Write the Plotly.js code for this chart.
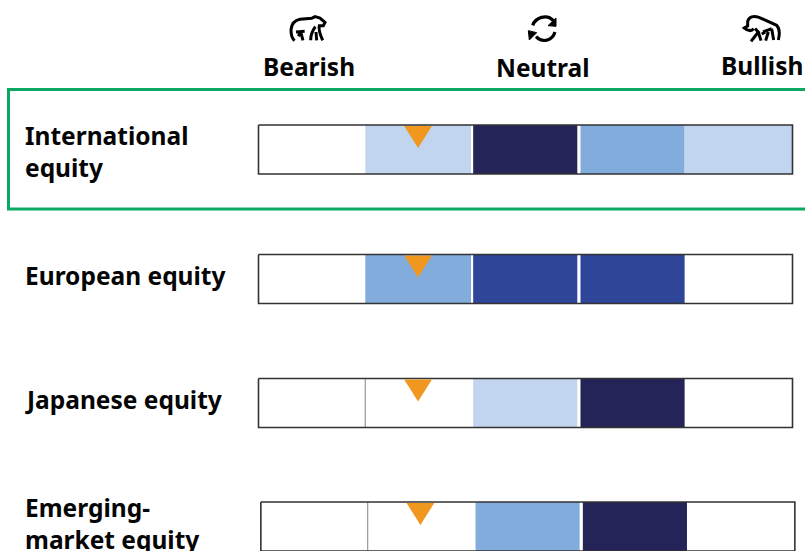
<!DOCTYPE html>
<html><head><meta charset="utf-8">
<script src="https://cdn.plot.ly/plotly-3.0.1.min.js"></script>
<style>html,body{margin:0;padding:0;background:#fff;overflow:hidden}</style>
</head><body><div id="chart" style="width:805px;height:551px"></div>
<script>
// Data: score scale -2 (bearish) .. +2 (bullish); rows are placed by rowY.
const rowLabels = ['International<br>equity','European equity','Japanese equity','Emerging-<br>market equity'];
const rowY = [149.5, 279, 403, 526.5];
const rowLabelY = [151, 275, 399, 523];
const rowShift = [0, 0, 0, 0.022];
const cellStart = [-2.5,-1.5,-0.49,0.515,1.49];
const cellEnd = [-1.5,-0.51,0.485,1.49,2.5];
const light='#c2d5ee', mid='#82acdc', blue='#2f4599', navy='#252459', none='#ffffff';
const rowCells = [
  [none,light,navy,mid,light],
  [none,mid,blue,blue,none],
  [none,none,light,navy,none],
  [none,none,mid,navy,none]
];
const markerScore = [-1,-1,-1,-1];
const headerLabels = ['Bearish','Neutral','Bullish'];
const headerX = [308.5,543,762];
const headerY = [66,67,65];

const unit=106.8, zero=525.5, H=49;
const toV = px => (px-zero)/unit;
const traces=[];
rowCells.forEach((cells,r)=>{
  const sh=rowShift[r];
  const filled=cells.map((c,i)=>i).filter(i=>cells[i]!==none);
  traces.push({type:'bar',orientation:'h',hoverinfo:'skip',showlegend:false,
    y:filled.map(()=>rowY[r]),width:H,
    base:filled.map(i=>cellStart[i]+sh),
    x:filled.map(i=>cellEnd[i]-cellStart[i]),
    marker:{color:filled.map(i=>cells[i]),line:{width:0}}});
  // thin separator between the first two empty cells
  if(cells[1]===none) traces.push({type:'scatter',mode:'lines',hoverinfo:'skip',showlegend:false,
    x:[-1.5+sh,-1.5+sh],y:[rowY[r]-H/2,rowY[r]+H/2],line:{color:'#a0a0a0',width:1.3}});
  // outline
  traces.push({type:'scatter',mode:'lines',hoverinfo:'skip',showlegend:false,
    x:[-2.5,2.5,2.5,-2.5,-2.5].map(v=>v+sh),
    y:[rowY[r]-H/2,rowY[r]-H/2,rowY[r]+H/2,rowY[r]+H/2,rowY[r]-H/2],
    line:{color:'#333333',width:1.6}});
  // position marker
  const m=markerScore[r]+sh-0.006, top=rowY[r]-H/2+1;
  traces.push({type:'scatter',mode:'lines',fill:'toself',fillcolor:'#f0971f',hoverinfo:'skip',showlegend:false,
    x:[m-0.13,m+0.13,m],y:[top,top,top+22],line:{width:0,color:'#f0971f'}});
});

// icons: paths in local pixel-zoom units (3 units = 1 px)
function icon(d,ox,oy){
  let n=0;
  return d.replace(/-?\d+(\.\d+)?/g,s=>{
    const v=parseFloat(s); n++;
    return n%2 ? toV(ox+v/3).toFixed(4) : (oy+v/3).toFixed(2);
  });
}
const ln={color:'#000',width:3};
const iconShapes=[
 {path:icon('M44 98 C34 90 33 78 33 65 C35 46 45 37 60 34 L95 31 L105 26 L120 30 L135 43 L130 53 L118 53 C115 66 122 84 128 97',280,8),line:ln},
 {path:icon('M106 56 C96 70 92 84 92 97 M108 72 L110 97 M48 72 L74 70 M62 72 L69 97 M62 72 L55 85',280,8),line:ln},
 {path:icon('M38 52 C46 30 80 15 100 38',520,8),line:{color:'#000',width:3.2}},
 {path:icon('M108 30 L108 55 L84 53 Z',520,8),line:{color:'#000',width:1},fillcolor:'#000'},
 {path:icon('M105 72 C98 95 70 108 48 86',520,8),line:{color:'#000',width:3.2}},
 {path:icon('M25 68 L50 74 L28 96 Z',520,8),line:{color:'#000',width:1},fillcolor:'#000'},
 {path:icon('M56 62 C48 72 38 68 28 60 L38 54 L38 40 C42 26 55 22 72 28 L125 52 C135 62 134 80 130 96',735,8),line:ln},
 {path:icon('M60 62 L70 72 L48 100 M70 72 L78 98 M84 72 L110 62 M92 72 L80 78 M100 72 L92 98 M110 62 L116 96',735,8),line:ln}
];
const shapes=[{type:'rect',xref:'x',yref:'y',x0:toV(8.5),x1:toV(820),y0:89.5,y1:209,line:{color:'#0aa864',width:3},fillcolor:'rgba(0,0,0,0)'}]
 .concat(iconShapes.map(s=>Object.assign({type:'path',xref:'x',yref:'y'},s)));

const rowFont={family:'"Noto Sans", sans-serif',size:24.5,color:'#050505',weight:700};
const headFont={family:'"Noto Sans", sans-serif',size:24.5,color:'#050505',weight:700};
const annotations=[];
rowLabels.forEach((t,r)=>annotations.push({xref:'x',yref:'y',x:toV(23),y:rowLabelY[r],text:t,showarrow:false,xanchor:'left',yanchor:'middle',align:'left',font:rowFont}));
headerLabels.forEach((t,i)=>annotations.push({xref:'x',yref:'y',x:toV(headerX[i]),y:headerY[i],text:t,showarrow:false,xanchor:'center',yanchor:'middle',font:headFont}));

Plotly.newPlot('chart',traces,{
  width:805,height:551,margin:{l:0,r:0,t:0,b:0},paper_bgcolor:'#fff',plot_bgcolor:'#fff',
  barmode:'overlay',showlegend:false,
  xaxis:{range:[toV(0),toV(805)],visible:false,fixedrange:true},
  yaxis:{range:[551,0],visible:false,fixedrange:true},
  shapes,annotations
},{displayModeBar:false,staticPlot:true});
</script></body></html>
